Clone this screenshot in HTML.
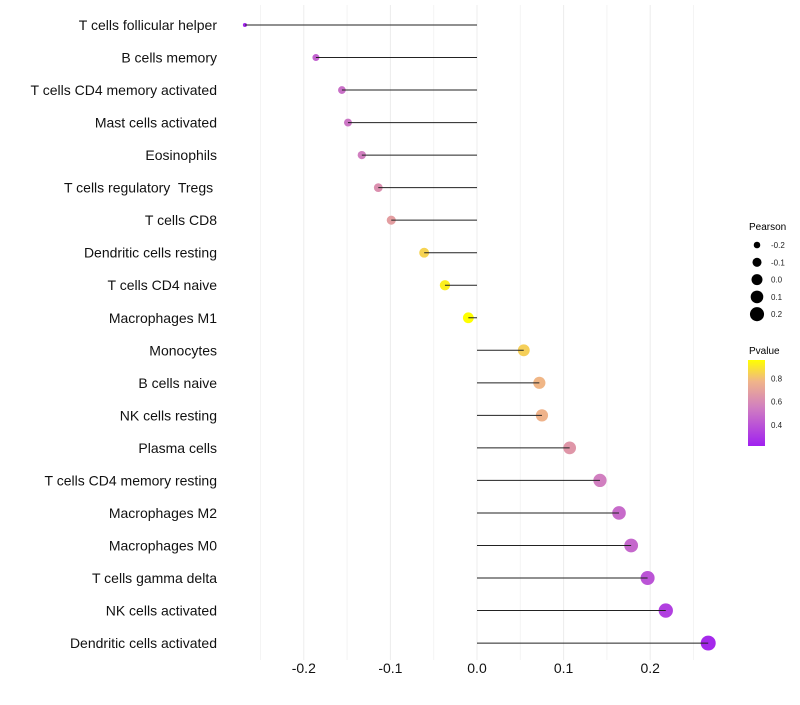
<!DOCTYPE html>
<html><head><meta charset="utf-8"><style>
body{margin:0;background:#fff;font-family:"Liberation Sans",sans-serif}
svg text{font-family:"Liberation Sans",sans-serif;white-space:pre}
</style></head><body>
<svg id="chart" width="800" height="700" xmlns="http://www.w3.org/2000/svg">
<defs><linearGradient id="pg" x1="0" y1="1" x2="0" y2="0">
<stop offset="0" stop-color="#a020f0"/><stop offset="0.45" stop-color="#d17fc0"/><stop offset="0.75" stop-color="#f0b48a"/><stop offset="1" stop-color="#ffff00"/></linearGradient></defs>
<g id="grid"></g>
<g id="marks"></g>
<g id="ylabels"></g>
<g id="xlabels"></g>
<g>
<text x="749" y="230" font-size="10" fill="#000">Pearson</text>
<g id="sizeleg"></g>
</g>
<g>
<text x="749" y="354" font-size="10" fill="#000">Pvalue</text>
<rect x="748" y="360" width="17" height="86" fill="url(#pg)"/>
<g id="colleg"></g>
</g>
</svg>
<script>
const categories=["T cells follicular helper","B cells memory","T cells CD4 memory activated","Mast cells activated","Eosinophils","T cells regulatory  Tregs ","T cells CD8","Dendritic cells resting","T cells CD4 naive","Macrophages M1","Monocytes","B cells naive","NK cells resting","Plasma cells","T cells CD4 memory resting","Macrophages M2","Macrophages M0","T cells gamma delta","NK cells activated","Dendritic cells activated"];
const pearson=[-0.268,-0.186,-0.156,-0.149,-0.133,-0.114,-0.099,-0.061,-0.037,-0.010,0.054,0.072,0.075,0.107,0.142,0.164,0.178,0.197,0.218,0.267];
const pvalue=[0.24,0.45,0.50,0.52,0.55,0.62,0.68,0.85,0.92,0.97,0.84,0.78,0.77,0.65,0.55,0.48,0.47,0.40,0.33,0.25];
const xTicks=[-0.2,-0.1,0.0,0.1,0.2];
const xMinor=[-0.25,-0.15,-0.05,0.05,0.15,0.25];
const sizeLegend=[-0.2,-0.1,0.0,0.1,0.2];
const colorLegend=[0.4,0.6,0.8];

const NS="http://www.w3.org/2000/svg";
const x=v=>477+v*866;
const y=i=>25+i*32.53;
const r=v=>Math.sqrt(4+Math.max(0,v+0.27)*97);
const pMin=0.217,pMax=0.96;
const stops=[[0,[160,32,240]],[0.45,[209,127,192]],[0.75,[240,180,138]],[1,[255,255,0]]];
function col(p){let t=Math.max(0,Math.min(1,(p-pMin)/(pMax-pMin)));
for(let k=1;k<stops.length;k++){if(t<=stops[k][0]){const a=stops[k-1],b=stops[k];const f=(t-a[0])/(b[0]-a[0]);
const c=a[1].map((v,j)=>Math.round(v+(b[1][j]-v)*f));return `rgb(${c})`;}}return "rgb(255,255,0)";}
function mk(tag,at,parent){const e=document.createElementNS(NS,tag);for(const k in at)e.setAttribute(k,at[k]);parent.appendChild(e);return e;}
const grid=document.getElementById('grid'),marks=document.getElementById('marks'),yl=document.getElementById('ylabels'),xl=document.getElementById('xlabels');
xMinor.forEach(v=>{const l=mk('line',{x1:x(v),x2:x(v),y1:5,y2:660,stroke:'#f4f4f4','stroke-width':1},grid);

});
xTicks.forEach(v=>{const l=mk('line',{x1:x(v),x2:x(v),y1:5,y2:660,stroke:'#ececec','stroke-width':1},grid);


const t=mk('text',{x:x(v),y:673,'font-size':14,'text-anchor':'middle',fill:'#111'},xl);t.textContent=v.toFixed(1);

});
categories.forEach((c,i)=>{
const t=mk('text',{x:217,y:y(i)+5,'font-size':14,'text-anchor':'end',fill:'#111'},yl);t.textContent=c;


const pt=mk('circle',{cx:x(pearson[i]),cy:y(i),r:r(pearson[i]),fill:col(pvalue[i])},marks);


const s=mk('line',{x1:x(0),x2:x(pearson[i]),y1:y(i),y2:y(i),stroke:'#222','stroke-width':1},marks);

});
const sl=document.getElementById('sizeleg');
sizeLegend.forEach((v,k)=>{const cy=245+k*17.3;
const c=mk('circle',{cx:757,cy:cy,r:r(v),fill:'#000'},sl);


const t=mk('text',{x:771,y:cy+3,'font-size':8,fill:'#222'},sl);t.textContent=v.toFixed(1);

});
const cl=document.getElementById('colleg');
colorLegend.forEach(v=>{const cy=446-(v-pMin)/(pMax-pMin)*86;
const t=mk('text',{x:771,y:cy+3,'font-size':8,fill:'#222'},cl);t.textContent=v.toFixed(1);

});
</script>
</body></html>
